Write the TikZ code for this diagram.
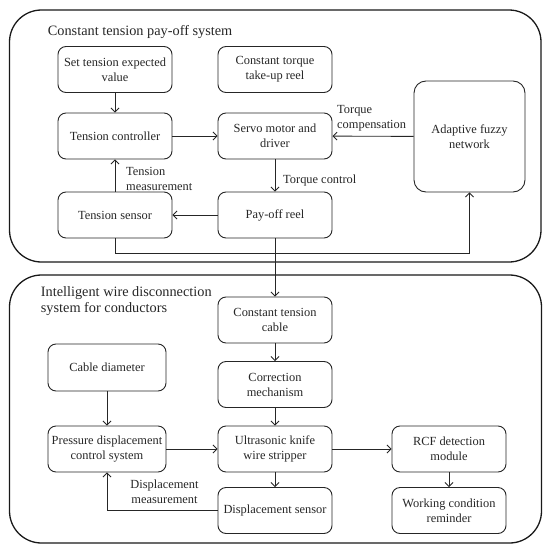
\documentclass[tikz,border=0pt]{standalone}
\usepackage{fontspec}
\setmainfont{Liberation Serif}
\usetikzlibrary{arrows.meta}
\begin{document}
\begin{tikzpicture}[x=1pt,y=-1pt,
  box/.style={draw=black!85, line width=0.9pt, rounded corners=8pt, minimum width=114pt, minimum height=46pt, align=center, inner sep=2pt, font=\fontsize{12.4}{15}\selectfont, text=black!85},
  frame/.style={draw=black!90, line width=1.3pt, rounded corners=32pt},
  arr/.style={draw=black!85, line width=0.9pt, -{Straight Barb[length=4pt,width=8pt]}},
  lbl/.style={font=\fontsize{12.4}{15}\selectfont, text=black!85, inner sep=0pt},
  ttl/.style={font=\fontsize{14.3}{16.5}\selectfont, text=black!85, inner sep=0pt, align=left}]
\useasboundingbox (0,0) rectangle (550,554);
% frames
\draw[frame] (9.5,10) rectangle (541,262);
\draw[frame] (9.5,275) rectangle (541.5,543);
\node[ttl, anchor=west] (t1) at (47.7,32) {Constant tension pay-off system};
\node[ttl, anchor=west] (t2) at (40.7,301) {Intelligent wire disconnection\\system for conductors};
% top nodes
\node[box] (set) at (115,69.5) {Set tension expected\\value};
\node[box] (take) at (275,69.5) {Constant torque\\take-up reel};
\node[box] (ctrl) at (115,136) {Tension controller};
\node[box] (servo) at (275,136) {Servo motor and\\driver};
\node[box, minimum width=111pt, minimum height=111pt, rounded corners=12pt] (fuzzy) at (469.5,136.5) {Adaptive fuzzy\\network};
\node[box] (sens) at (115,215) {Tension sensor};
\node[box] (pay) at (275,215) {Pay-off reel};
% bottom nodes
\node[box] (cable) at (275,320) {Constant tension\\cable};
\node[box] (corr) at (275,384.5) {Correction\\mechanism};
\node[box] (ultra) at (275,449) {Ultrasonic knife\\wire stripper};
\node[box] (disp) at (275,510.5) {Displacement sensor};
\node[box, minimum width=118pt, minimum height=47pt] (diam) at (107,367.5) {Cable diameter};
\node[box, minimum width=118pt] (press) at (107,449) {Pressure displacement\\control system};
\node[box] (rcf) at (449,449) {RCF detection\\module};
\node[box] (work) at (449,510.5) {Working condition\\reminder};
% top connectors
\draw[arr] (set) -- (ctrl);
\draw[arr] (ctrl) -- (servo);
\draw[arr] (fuzzy) -- (servo);
\draw[arr] (servo) -- (pay);
\draw[arr] (pay) -- (sens);
\draw[arr] (sens) -- (ctrl);
\draw[arr] (sens.south) -- ++(0,15) -| (fuzzy.south);
\draw[arr] (pay.south) -- (cable.north);
\node[lbl, anchor=west, align=left] (l1) at (337,118) {Torque\\compensation};
\node[lbl, anchor=west] (l2) at (283,181) {Torque control};
\node[lbl, anchor=west, align=left] (l3) at (126,178.5) {Tension\\measurement};
% bottom connectors
\draw[arr] (cable) -- (corr);
\draw[arr] (corr) -- (ultra);
\draw[arr] (ultra) -- (disp);
\draw[arr] (diam) -- (press);
\draw[arr] (press) -- (ultra);
\draw[arr] (ultra) -- (rcf);
\draw[arr] (rcf) -- (work);
\draw[arr] (disp.west) -| (press.south);
\node[lbl, align=center] (l4) at (164.5,491.5) {Displacement\\measurement};
\end{tikzpicture}
\end{document}
